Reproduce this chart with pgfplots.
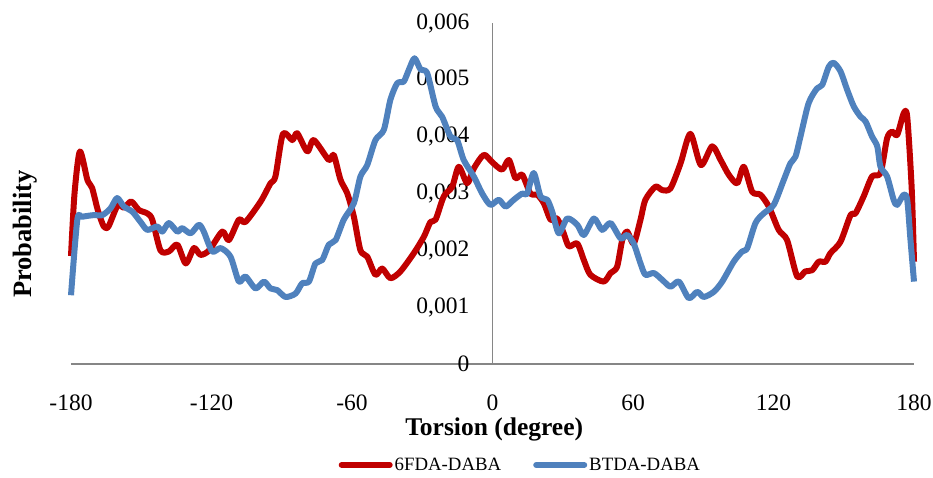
\documentclass[border=0pt]{standalone}
\usepackage{pgfplots}
\pgfplotsset{compat=1.18}
\usepackage{fontspec}
\setmainfont{Liberation Serif}
\definecolor{redS}{RGB}{192,0,0}
\definecolor{blueS}{RGB}{79,129,189}
\definecolor{axgray}{RGB}{134,134,134}
\begin{document}
\begin{tikzpicture}
\path[use as bounding box] (-71pt,-113pt) rectangle (862pt,364pt);
\begin{axis}[
  at={(0pt,0pt)}, anchor=south west,
  scale only axis, width=843pt, height=341pt,
  xmin=-180, xmax=180, ymin=0, ymax=0.006,
  axis x line*=bottom, axis y line*=center,
  axis line style={draw=axgray, line width=1.5pt, -},
  hide obscured x ticks=false, hide obscured y ticks=false,
  major tick length=0pt,
  xtick={-180,-120,-60,0,60,120,180},
  ytick={0,0.001,0.002,0.003,0.004,0.005,0.006},
  scaled y ticks=false,
  /pgf/number format/assume math mode=true,
  yticklabel style={/pgf/number format/.cd, fixed, precision=3, use comma, 1000 sep={}, /tikz/.cd, anchor=east, inner sep=0pt, xshift=-23pt, font=\fontsize{23.5}{28}\selectfont},
  xticklabel style={anchor=base, inner sep=0pt, yshift=-46pt, font=\fontsize{23.5}{28}\selectfont},
  every axis x label/.style={at={(axis description cs:0.502,-0.193)}, anchor=center, inner sep=0pt, font=\fontsize{25.5}{30}\selectfont\bfseries},
  every axis y label/.style={at={(axis description cs:-0.0546,0.381)}, rotate=90, anchor=center, inner sep=0pt, font=\fontsize{26.5}{30}\selectfont\bfseries},
  xlabel={Torsion (degree)},
  ylabel={Probability},
  clip=false,
  legend columns=2,
  legend style={at={(axis description cs:0.533,-0.296)}, anchor=center, draw=none, fill=none,
    font=\fontsize{18.8}{22}\selectfont,
    /tikz/every even column/.append style={column sep=30pt}},
  legend image code/.code={\draw[#1, line cap=round] (0pt,0pt) -- (48pt,0pt);},
  every axis plot/.append style={line width=6pt, line join=round, smooth, tension=0.45},
]
\addplot[color=redS] coordinates {
(-180,0.0019) (-178.5,0.0030) (-176.2,0.00374) (-173,0.00324) (-171,0.0031) (-168.5,0.0027)
(-166,0.00242) (-164,0.00242) (-160,0.0028) (-157.4,0.00275) (-154.3,0.00286) (-151,0.00271)
(-147.4,0.00265) (-145.3,0.00254) (-141.8,0.0020) (-138.2,0.00198) (-134.6,0.0021) (-131,0.00177)
(-127.5,0.00204) (-124.7,0.00192) (-121,0.0020) (-115.4,0.00233) (-112.6,0.00218) (-108.3,0.00254)
(-105.5,0.0025) (-99,0.00286) (-94.8,0.00318) (-92.7,0.0033) (-89.5,0.00405) (-85.5,0.00394)
(-83.4,0.00406) (-79.1,0.00374) (-76.3,0.00394) (-69.9,0.00359) (-67.8,0.00368) (-64.9,0.00324)
(-62,0.0030) (-59.2,0.00259) (-56.4,0.0020) (-53.5,0.00189) (-50,0.00157) (-47.1,0.00168)
(-43.6,0.00151) (-39.3,0.00163) (-33.6,0.00195) (-29.3,0.00224) (-26.5,0.0025) (-24.3,0.00254)
(-20.8,0.00295) (-17.2,0.00312) (-14.4,0.00347) (-10.8,0.00318) (-8,0.00344) (-3.7,0.00368)
(-0.1,0.00355) (4.1,0.00342) (7,0.00359) (9.8,0.00327) (12.7,0.00333) (16.2,0.0030)
(19.1,0.00298) (21.9,0.00283) (24.8,0.00254) (27.6,0.00256) (30.4,0.0023) (32.6,0.00207)
(36.2,0.00212) (39,0.00183) (41.8,0.00157) (47.5,0.00145) (50.4,0.0016) (53.2,0.00171)
(55.4,0.00218) (57.5,0.00233) (60.3,0.00212) (63.2,0.00254) (65.3,0.00289) (69.6,0.00312)
(72.5,0.00306) (76,0.00309) (80.3,0.00353) (84.5,0.00405) (89,0.0035) (93.8,0.00383)
(97.4,0.00359) (100.9,0.00333) (104.5,0.00318) (107.3,0.00347) (110.9,0.00303) (114.4,0.00298)
(118,0.00277) (122.2,0.00236) (125.8,0.00218) (130.1,0.00154) (133.6,0.00163) (136.5,0.00165)
(139.3,0.0018) (142.2,0.0018) (144.3,0.00195) (148.6,0.00215) (152.9,0.00262) (155,0.00265)
(158.5,0.00295) (162.1,0.0033) (165.7,0.00336) (168.5,0.00397) (170.6,0.00409) (172.8,0.00403)
(175.6,0.00441) (177.1,0.00435) (179,0.0031) (180,0.0018)
};
\addlegendentry{6FDA-DABA}
\addplot[color=blueS] coordinates {
(-180,0.00121) (-177.3,0.00254) (-175.2,0.00259) (-170.2,0.00262) (-166.6,0.00262) (-163.1,0.00274)
(-160.3,0.00292) (-157.4,0.00277) (-153.8,0.00268) (-150.3,0.0025) (-147.4,0.00236) (-143.2,0.00242)
(-141,0.00233) (-138.2,0.00248) (-134.6,0.00233) (-132.5,0.00239) (-128.9,0.0023) (-125.4,0.00245)
(-123.3,0.00233) (-119.7,0.00198) (-116.1,0.00204) (-111.9,0.00189) (-108.3,0.00145) (-105.5,0.00154)
(-101.2,0.00133) (-97.6,0.00145) (-94.8,0.00133) (-91.9,0.0013) (-88.4,0.00118) (-84.1,0.00124)
(-81.3,0.00142) (-78.4,0.00145) (-75.6,0.00177) (-72.7,0.00183) (-69.9,0.0021) (-67,0.00218)
(-63.5,0.00254) (-59.2,0.00283) (-56.4,0.0033) (-53.5,0.0035) (-50,0.00394) (-46.4,0.00412)
(-43.6,0.00465) (-40.7,0.00494) (-37.9,0.00497) (-35.7,0.00518) (-33.3,0.00538) (-30.7,0.00518)
(-27.9,0.00512) (-24.3,0.00453) (-21.5,0.00435) (-17.9,0.004) (-15.1,0.00394) (-12.3,0.00359)
(-8,0.0033) (-4.4,0.003) (-0.9,0.0028) (2.7,0.00289) (5.6,0.00277) (9.1,0.00289)
(12.7,0.003) (14.8,0.003) (17.6,0.00336) (20.5,0.00295) (23.4,0.00289) (25.5,0.00268)
(28.3,0.0023) (31.9,0.00256) (36.2,0.00245) (39,0.00227) (43.3,0.00256) (46.8,0.00236)
(50.4,0.00248) (54.7,0.00221) (57.5,0.00227) (60.3,0.00212) (63.2,0.00177) (65.3,0.00157)
(68.9,0.0016) (72.5,0.00148) (76,0.00136) (79.6,0.00145) (83.8,0.00116) (87.4,0.00127)
(90.2,0.00118) (94.5,0.00127) (98.1,0.00145) (103,0.0018) (106.6,0.00198) (108.8,0.00204)
(112.3,0.00248) (115.8,0.00265) (120.1,0.0028) (124.4,0.00324) (127.2,0.00353) (129.4,0.00365)
(131.5,0.004) (135,0.00459) (138.6,0.00485) (140.8,0.00491) (143.6,0.00523) (145.7,0.0053)
(148.6,0.00515) (151.5,0.00482) (154.3,0.00453) (157.2,0.00435) (159.3,0.00427) (162.1,0.004)
(164.3,0.00383) (165.7,0.00347) (168.5,0.0033) (171.3,0.00289) (172.8,0.0028) (175.6,0.00298)
(177.1,0.00289) (178.5,0.00218) (180,0.00145)
};
\addlegendentry{BTDA-DABA}
\end{axis}
\end{tikzpicture}
\end{document}
